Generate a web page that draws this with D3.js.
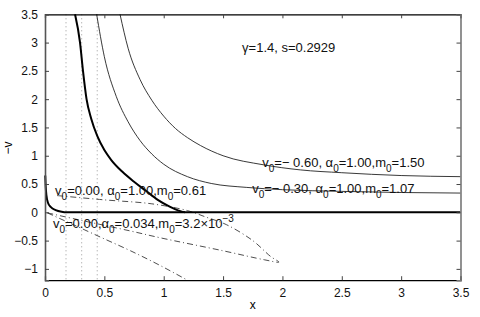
<!DOCTYPE html>
<html>
<head>
<meta charset="utf-8">
<script src="https://cdn.jsdelivr.net/npm/d3@7"></script>
<style>
  body { margin: 0; background: #fff; }
  text { font-family: "Liberation Sans", Arial, sans-serif; }
</style>
</head>
<body>
<script>
// tick values
var xTicks = [0, 0.5, 1, 1.5, 2, 2.5, 3, 3.5];
var yTicks = [-1, -0.5, 0, 0.5, 1, 1.5, 2, 2.5, 3, 3.5];

// vertical dotted reference lines
var dottedX = [0.177, 0.309, 0.44];

// v0=0.00, a0=1.00 (thick)
var thickMain = [[0.253,3.5],[0.295,3.0],[0.32,2.5],[0.35,2.0],[0.39,1.65],[0.44,1.35],[0.5,1.1],
  [0.56,0.92],[0.65,0.72],[0.75,0.54],[0.85,0.38],[0.95,0.22],[1.05,0.1],[1.12,0.035],[1.18,0],[3.5,0]];
// thick branch close to the v axis
var thickLeft = [[0.002,0.65],[0.006,0.45],[0.012,0.3],[0.025,0.17],[0.05,0.09],[0.09,0.04],[0.14,0.01],[0.18,0],[1.18,0]];
// v0=-0.30
var thinLow = [[0.435,3.5],[0.5,2.75],[0.6,2.05],[0.7,1.6],[0.8,1.27],[0.9,1.03],[1.0,0.85],[1.2,0.63],
  [1.4,0.51],[1.7,0.44],[2.0,0.4],[2.5,0.37],[3.0,0.35],[3.5,0.34]];
// v0=-0.60
var thinHigh = [[0.632,3.5],[0.7,2.9],[0.8,2.35],[0.9,1.98],[1.0,1.7],[1.1,1.48],[1.2,1.32],[1.31,1.18],
  [1.5,1.0],[1.84,0.84],[2.15,0.75],[2.5,0.7],[3.0,0.65],[3.5,0.63]];
// v0=0.00, a0=0.034 (dash-dot)
var dashLoop = [[0.02,-0.01],[0.3,-0.14],[0.72,-0.33],[0.97,-0.45],[1.5,-0.68],[1.85,-0.84],[1.97,-0.88],
  [1.9,-0.78],[1.75,-0.5],[1.53,-0.22],[1.35,-0.08],[1.2,0.03],[0.9,0.15],[0.5,0.22],[0.08,0.3]];
var dashLine = [[0.02,-0.01],[0.25,-0.23],[0.5,-0.47],[0.72,-0.68],[0.97,-0.94],[1.2,-1.2]];

// set the dimensions and margins of the graph
var margin = {top: 14.3, right: 19.5, bottom: 36.8, left: 45},
    width = 480 - margin.left - margin.right,
    height = 317 - margin.top - margin.bottom;

var x = d3.scaleLinear().domain([0, 3.5]).range([0, width]);
var y = d3.scaleLinear().domain([-1.2, 3.5]).range([height, 0]);

var svg = d3.select("body").append("svg")
    .attr("width", 480)
    .attr("height", 317)
  .append("g")
    .attr("transform", "translate(" + margin.left + "," + margin.top + ")");

var smooth = d3.line()
    .x(function(d) { return x(d[0]); })
    .y(function(d) { return y(d[1]); })
    .curve(d3.curveMonotoneX);

var loopLine = d3.line()
    .x(function(d) { return x(d[0]); })
    .y(function(d) { return y(d[1]); })
    .curve(d3.curveCatmullRom);

// dotted verticals
svg.selectAll(".dot-v")
    .data(dottedX)
  .enter().append("line")
    .attr("x1", function(d) { return x(d); })
    .attr("x2", function(d) { return x(d); })
    .attr("y1", 0)
    .attr("y2", height)
    .attr("stroke", "#999")
    .attr("stroke-width", 1)
    .attr("stroke-dasharray", "1,3");

// curves
svg.append("path").datum(thinLow).attr("d", smooth)
    .attr("fill", "none").attr("stroke", "#222").attr("stroke-width", 0.9);
svg.append("path").datum(thinHigh).attr("d", smooth)
    .attr("fill", "none").attr("stroke", "#222").attr("stroke-width", 0.9);
svg.append("path").datum(dashLoop).attr("d", loopLine)
    .attr("fill", "none").attr("stroke", "#222").attr("stroke-width", 0.8)
    .attr("stroke-dasharray", "6,3,1,3");
svg.append("path").datum(dashLine).attr("d", smooth)
    .attr("fill", "none").attr("stroke", "#222").attr("stroke-width", 0.8)
    .attr("stroke-dasharray", "6,3,1,3");
svg.append("path").datum(thickLeft).attr("d", smooth)
    .attr("fill", "none").attr("stroke", "#000").attr("stroke-width", 2);
svg.append("path").datum(thickMain).attr("d", smooth)
    .attr("fill", "none").attr("stroke", "#000").attr("stroke-width", 2);

// axes (matlab style box, ticks inward)
var fs = "12px";
svg.append("g")
    .attr("transform", "translate(0," + height + ")")
    .call(d3.axisBottom(x).tickValues(xTicks).tickSize(-4).tickPadding(8)
      .tickFormat(d3.format("")));
svg.append("g")
    .call(d3.axisTop(x).tickValues(xTicks).tickSize(-4).tickFormat(""));
var yl = svg.append("g")
    .call(d3.axisLeft(y).tickValues(yTicks).tickSize(-4).tickPadding(7)
      .tickFormat(function(d) { return d < 0 ? "\u2212" + Math.abs(d) : d; }));
var yr = svg.append("g")
    .attr("transform", "translate(" + width + ",0)")
    .call(d3.axisRight(y).tickValues(yTicks).tickSize(-4).tickFormat(""));
svg.selectAll(".domain").attr("stroke", "#000").attr("stroke-width", 1.2);
yl.select(".domain").attr("stroke", "#555").attr("stroke-width", 1.6);
yr.select(".domain").attr("stroke", "#777").attr("stroke-width", 1.6);
svg.selectAll(".tick line").attr("stroke", "#444");
svg.selectAll(".tick text").style("font-size", fs).attr("fill", "#111")
    .style("font-family", "'Liberation Sans', Arial, sans-serif");

// axis labels
svg.append("text")
    .attr("x", width / 2)
    .attr("y", height + 29)
    .style("text-anchor", "middle")
    .style("font-size", fs)
    .text("x");
svg.append("text")
    .attr("transform", "translate(" + (12 - margin.left) + "," + (148 - margin.top) + ") rotate(-90)")
    .style("text-anchor", "middle")
    .style("font-size", fs)
    .text("\u2212v");

// annotations with subscripts
function label(px, pv, parts) {
  var t = svg.append("text")
      .attr("x", x(px))
      .attr("y", y(pv))
      .style("font-size", "13px")
      .attr("fill", "#111");
  var shift = 0;
  parts.forEach(function(p) {
    var s = t.append("tspan").text(p[0]);
    var target = p[1] === 1 ? 5 : (p[1] === 2 ? -6 : 0);
    s.attr("dy", target - shift);
    shift = target;
    if (p[1]) s.style("font-size", "10px");
  });
}

label(1.66, 2.83, [["\u03b3=1.4, s=0.2929", 0]]);
label(1.83, 0.80, [["v", 0], ["0", 1], ["=\u2212 0.60, \u03b1", 0], ["0", 1], ["=1.00,m", 0], ["0", 1], ["=1.50", 0]]);
label(1.745, 0.35, [["v", 0], ["0", 1], ["=\u2212 0.30, \u03b1", 0], ["0", 1], ["=1.00,m", 0], ["0", 1], ["=1.07", 0]]);
label(0.085, 0.30, [["v", 0], ["0", 1], ["=0.00, \u03b1", 0], ["0", 1], ["=1.00,m", 0], ["0", 1], ["=0.61", 0]]);
label(0.067, -0.28, [["v", 0], ["0", 1], ["=0.00,\u03b1", 0], ["0", 1], ["=0.034,m", 0], ["0", 1], ["=3.2\u00d710", 0], ["\u22123", 2]]);
</script>
</body>
</html>
